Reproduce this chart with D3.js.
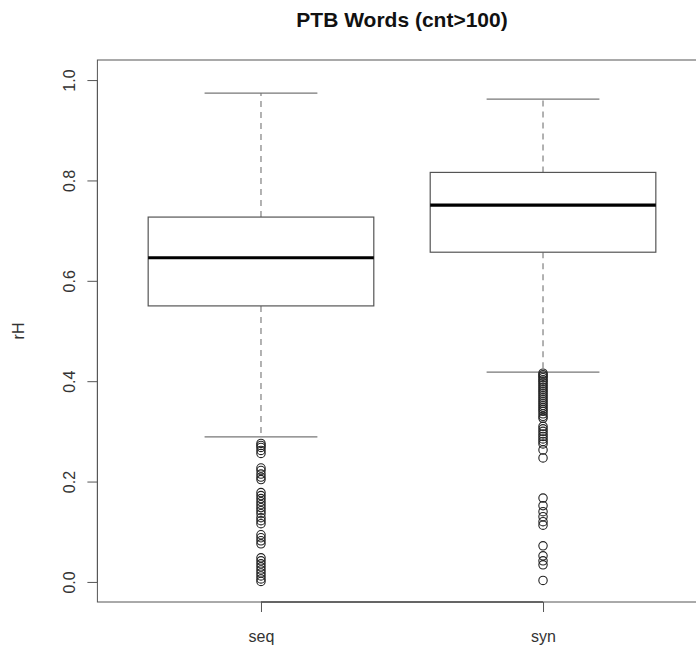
<!DOCTYPE html>
<html>
<head>
<meta charset="utf-8">
<title>PTB Words (cnt>100)</title>
<script src="https://cdn.jsdelivr.net/npm/d3@7"></script>
<style>
body { margin: 0; background: #fff; }
text { font-family: "Liberation Sans", Arial, sans-serif; }
</style>
</head>
<body>
<div id="canvas"></div>
<script>

// box statistics
var categories = ["seq", "syn"];
var whiskerLow  = [0.289, 0.418];
var q1          = [0.550, 0.657];
var median      = [0.646, 0.751];
var q3          = [0.727, 0.816];
var whiskerHigh = [0.974, 0.962];

var outliersSeq = [0.276, 0.272, 0.268, 0.262, 0.256,
                   0.227, 0.222, 0.215, 0.209, 0.204,
                   0.178, 0.172, 0.166, 0.160, 0.154, 0.148, 0.142, 0.136, 0.128, 0.122, 0.116,
                   0.094, 0.088, 0.082, 0.076,
                   0.048, 0.042, 0.036, 0.030, 0.024, 0.018, 0.012, 0.006, 0.001];
var outliersSyn = [0.416, 0.413, 0.410, 0.407, 0.403, 0.400, 0.396, 0.392, 0.388,
                   0.384, 0.380, 0.376, 0.372, 0.368, 0.364, 0.360, 0.356, 0.352,
                   0.348, 0.344, 0.340, 0.335, 0.330, 0.326,
                   0.310, 0.305, 0.300, 0.295, 0.290, 0.285, 0.280, 0.275,
                   0.263, 0.247,
                   0.167, 0.152, 0.140, 0.130, 0.120, 0.113,
                   0.072, 0.052, 0.042, 0.034, 0.003];
var outliers = [outliersSeq, outliersSyn];

var yTicks = [0, 0.2, 0.4, 0.6, 0.8, 1.0];

var width = 696, height = 656;
var plotLeft = 97.4, plotRight = 706.6, plotTop = 60, plotBottom = 602;

var svg = d3.select("#canvas")
            .append("svg")
            .attr("width", width)
            .attr("height", height);

// R style: x positions 1..n, range extended by 4%
var x = d3.scaleLinear().domain([0.42, 2.58]).range([plotLeft, plotRight]);
var y = d3.scaleLinear().domain([-0.04, 1.04]).range([plotBottom, plotTop]);
var boxHalf = 0.4;

var boxes = categories.map(function(c, i) {
   return { name: c, pos: i + 1, lo: whiskerLow[i], q1: q1[i], med: median[i],
            q3: q3[i], hi: whiskerHigh[i], out: outliers[i] };
});

// plot frame
svg.append("rect")
   .attr("x", plotLeft).attr("y", plotTop)
   .attr("width", plotRight - plotLeft).attr("height", plotBottom - plotTop)
   .attr("fill", "none")
   .attr("stroke", "#555")
   .attr("stroke-width", 1);

var g = svg.selectAll("g.box")
           .data(boxes)
           .enter()
           .append("g")
           .attr("class", "box");

// dashed whiskers
g.append("line")
 .attr("x1", function(d) { return x(d.pos); })
 .attr("x2", function(d) { return x(d.pos); })
 .attr("y1", function(d) { return y(d.q3); })
 .attr("y2", function(d) { return y(d.hi); })
 .attr("stroke", "#999").attr("stroke-width", 1.5)
 .attr("stroke-dasharray", "6,5");

g.append("line")
 .attr("x1", function(d) { return x(d.pos); })
 .attr("x2", function(d) { return x(d.pos); })
 .attr("y1", function(d) { return y(d.q1); })
 .attr("y2", function(d) { return y(d.lo); })
 .attr("stroke", "#999").attr("stroke-width", 1.5)
 .attr("stroke-dasharray", "6,5");

// whisker caps (half box width)
["hi", "lo"].forEach(function(k) {
   g.append("line")
    .attr("x1", function(d) { return x(d.pos - boxHalf / 2); })
    .attr("x2", function(d) { return x(d.pos + boxHalf / 2); })
    .attr("y1", function(d) { return y(d[k]); })
    .attr("y2", function(d) { return y(d[k]); })
    .attr("stroke", "#777").attr("stroke-width", 1.3);
});

// boxes
g.append("rect")
 .attr("x", function(d) { return x(d.pos - boxHalf); })
 .attr("width", function(d) { return x(d.pos + boxHalf) - x(d.pos - boxHalf); })
 .attr("y", function(d) { return y(d.q3); })
 .attr("height", function(d) { return y(d.q1) - y(d.q3); })
 .attr("fill", "#fff")
 .attr("stroke", "#555").attr("stroke-width", 1.2);

// medians
g.append("line")
 .attr("x1", function(d) { return x(d.pos - boxHalf); })
 .attr("x2", function(d) { return x(d.pos + boxHalf); })
 .attr("y1", function(d) { return y(d.med); })
 .attr("y2", function(d) { return y(d.med); })
 .attr("stroke", "#000").attr("stroke-width", 3.2);

// outliers
g.each(function(d) {
   d3.select(this).selectAll("circle")
     .data(d.out)
     .enter()
     .append("circle")
     .attr("cx", x(d.pos))
     .attr("cy", function(v) { return y(v); })
     .attr("r", 4.2)
     .attr("fill", "none")
     .attr("stroke", "#222")
     .attr("stroke-width", 1.1);
});

// y axis
var yAxis = d3.axisLeft(y).tickValues(yTicks).tickSize(10)
              .tickFormat(d3.format(".1f"));
var ya = svg.append("g")
            .attr("transform", "translate(" + plotLeft + ",0)")
            .call(yAxis);
ya.select(".domain").attr("stroke", "#555")
  .attr("d", "M0," + y(0) + "V" + y(1));
ya.selectAll(".tick line").attr("stroke", "#555");
ya.selectAll(".tick text")
  .attr("x", 0).attr("dy", 0)
  .attr("transform", "translate(-22,0) rotate(-90)")
  .attr("text-anchor", "middle")
  .style("font-size", "16px")
  .attr("fill", "#333")
  .attr("font-family", null);

// x axis
var xAxis = d3.axisBottom(x).tickValues([1, 2]).tickSize(10)
              .tickFormat(function(d) { return categories[d - 1]; });
var xa = svg.append("g")
            .attr("transform", "translate(0," + plotBottom + ")")
            .call(xAxis);
xa.select(".domain").attr("stroke", "#222")
  .attr("d", "M" + x(1) + ",0H" + x(2));
xa.selectAll(".tick line").attr("stroke", "#555");
xa.selectAll(".tick text")
  .attr("y", 40).attr("dy", 0)
  .style("font-size", "16px")
  .attr("fill", "#333")
  .attr("font-family", null);

// labels
svg.append("text")
   .attr("transform", "translate(24," + (plotTop + plotBottom) / 2 + ") rotate(-90)")
   .attr("text-anchor", "middle")
   .style("font-size", "16px")
   .attr("fill", "#333")
   .text("rH");

svg.append("text")
   .attr("x", (plotLeft + plotRight) / 2)
   .attr("y", 27)
   .attr("text-anchor", "middle")
   .style("font-size", "21px")
   .style("font-weight", "bold")
   .attr("fill", "#111")
   .text("PTB Words (cnt>100)");

</script>
</body>
</html>
